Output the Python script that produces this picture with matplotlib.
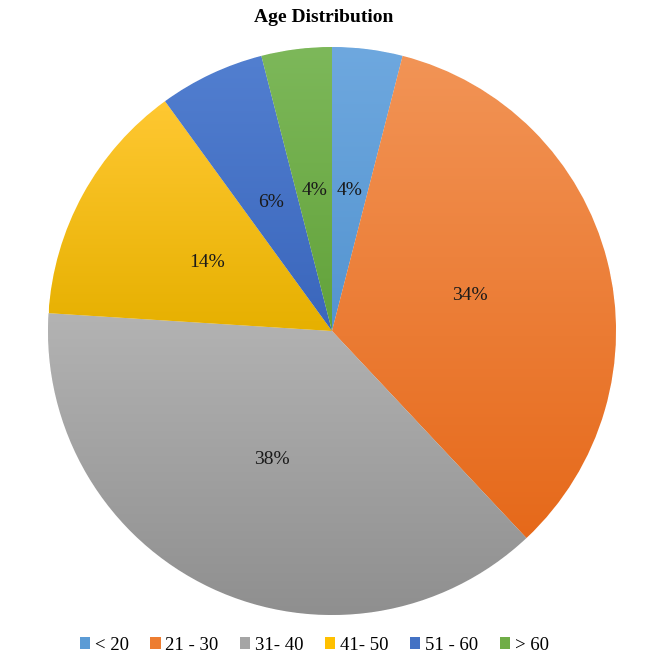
import matplotlib
matplotlib.use("Agg")
import matplotlib.pyplot as plt
import matplotlib.colors as mcolors
from matplotlib.patches import Patch
import numpy as np

plt.rcParams["font.family"] = ["Liberation Serif", "DejaVu Serif"]

labels = ["< 20", "21 - 30", "31- 40", "41- 50", "51 - 60", "> 60"]
shares = [4, 34, 38, 14, 6, 4]
colors = ["#5B9BD5", "#ED7D31", "#A5A5A5", "#FFC000", "#4472C4", "#70AD47"]
# gradient ends (top, bottom) for each slice
tops = ["#6EA8DF", "#F29456", "#B3B3B3", "#FFC832", "#527FD0", "#7DB85A"]
bottoms = ["#5494D0", "#E6691A", "#8F8F8F", "#E6B000", "#3A66BC", "#62A23A"]

fig = plt.figure(figsize=(6.48, 6.57), dpi=100)
ax = fig.add_axes([48 / 648, 42 / 657, 568 / 648, 568 / 657])

wedges, texts, autotexts = ax.pie(
    shares, colors=colors, startangle=90, counterclock=False,
    autopct="%1.0f%%", pctdistance=0.5, radius=1,
    wedgeprops=dict(linewidth=0.6, edgecolor="white"),
    textprops=dict(fontsize=14, color="#1a1a1a"),
)

# vertical gradient on each slice, like the spreadsheet style
for w, top, bot in zip(wedges, tops, bottoms):
    bb = w.get_path().get_extents()
    grad = np.linspace(0, 1, 256)[:, None]
    cmap = mcolors.LinearSegmentedColormap.from_list("g", [bot, top])
    im = ax.imshow(grad, extent=[bb.x0, bb.x1, bb.y0, bb.y1], origin="lower",
                   cmap=cmap, aspect="auto", zorder=w.get_zorder() + 0.1)
    im.set_clip_path(w)
for t in autotexts:
    t.set_zorder(5)

ax.set_xlim(-1, 1)
ax.set_ylim(-1, 1)
ax.set_aspect("equal")
ax.axis("off")

fig.text(0.5, 1 - 18 / 657, "Age Distribution", ha="center", va="center",
         fontsize=14, fontweight="bold")

handles = [Patch(facecolor=c, edgecolor="none") for c in colors]
fig.legend(handles, labels, loc="center", bbox_to_anchor=(0.485, 1 - 645 / 657),
           ncol=6, frameon=False, fontsize=13.5, handlelength=0.55, handleheight=0.55,
           handletextpad=0.25, columnspacing=1.15)

fig.savefig("out.png", dpi=100)
